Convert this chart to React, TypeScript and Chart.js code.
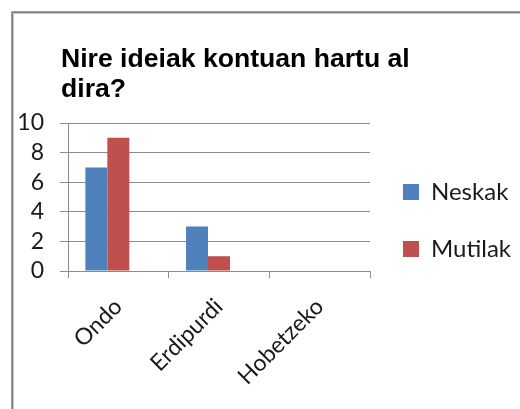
import React, { useEffect, useRef } from "react";
import { Chart, registerables } from "chart.js";

Chart.register(...registerables);

const TITLE_LINES = ["Nire ideiak kontuan hartu al", "dira?"];
const CATEGORIES = ["Ondo", "Erdipurdi", "Hobetzeko"];
const SERIES_NAMES = ["Neskak", "Mutilak"];
const NESKAK = [7, 3, 0];
const MUTILAK = [9, 1, 0];
const EMPTY_SERIES: (number | null)[] = [null, null, null];
const Y_MIN = 0;
const Y_MAX = 10;
const Y_STEP = 2;

const BLUE = "#4F81BD";
const RED = "#C0504D";
const GRID = "#8c8c8c";

const framePlugin = {
  id: "frameAndTitle",
  beforeDraw(chart: any) {
    const ctx = chart.ctx;
    const w = chart.width;
    const h = chart.height;
    ctx.save();
    ctx.fillStyle = "#ffffff";
    ctx.fillRect(0, 0, w, h);
    const shades = ["#9a9a9a", "#808080", "#c4c4c4"];
    shades.forEach((c, i) => {
      ctx.strokeStyle = c;
      ctx.lineWidth = 1;
      ctx.beginPath();
      ctx.moveTo(11.5 + i, h);
      ctx.lineTo(11.5 + i, 11.5 + i);
      ctx.lineTo(w, 11.5 + i);
      ctx.stroke();
    });
    ctx.restore();
  },
  afterDraw(chart: any) {
    const ctx = chart.ctx;
    ctx.save();
    ctx.fillStyle = "#000000";
    ctx.font = "bold 26.6px 'Liberation Sans', Arial, sans-serif";
    ctx.textAlign = "left";
    ctx.textBaseline = "alphabetic";
    TITLE_LINES.forEach((line, i) => {
      ctx.fillText(line, 61, 67 + i * 30);
    });
    ctx.restore();
  },
};

export default function App() {
  const ref = useRef<HTMLCanvasElement | null>(null);

  useEffect(() => {
    if (!ref.current) return;
    const chart = new Chart(ref.current, {
      type: "bar",
      data: {
        labels: CATEGORIES,
        datasets: [
          { label: SERIES_NAMES[0], data: NESKAK, backgroundColor: BLUE, borderWidth: 0 },
          { label: SERIES_NAMES[1], data: MUTILAK, backgroundColor: RED, borderWidth: 0 },
          { label: "", data: EMPTY_SERIES, backgroundColor: "rgba(0,0,0,0)", borderWidth: 0 },
        ],
      },
      options: {
        responsive: false,
        animation: false,
        layout: { padding: { top: 123, left: 0, right: 0, bottom: 0 } },
        datasets: {
          bar: { categoryPercentage: 0.655, barPercentage: 1 },
        },
        plugins: {
          title: { display: false },
          tooltip: { enabled: false },
          legend: {
            position: "right",
            align: "start",
            maxWidth: 150,
            title: { display: true, text: "", font: { size: 20 }, padding: 0 },
            labels: {
              filter: (item: any) => item.datasetIndex < 2,
              boxWidth: 16,
              boxHeight: 16,
              padding: 33,
              color: "#1a1a1a",
              font: { family: "Lato, 'Noto Sans', sans-serif", size: 24 },
            },
          },
        },
        scales: {
          x: {
            offset: true,
            afterFit: (s: any) => {
              s.height = 138;
            },
            grid: {
              display: true,
              drawOnChartArea: false,
              drawTicks: true,
              tickLength: 7,
              color: GRID,
              offset: true,
            },
            border: { display: true, color: GRID },
            ticks: {
              autoSkip: false,
              minRotation: 45,
              maxRotation: 45,
              padding: 15,
              color: "#1a1a1a",
              font: { family: "Lato, 'Noto Sans', sans-serif", size: 23 },
            },
          },
          y: {
            min: Y_MIN,
            max: Y_MAX,
            afterFit: (s: any) => {
              s.width = 68;
            },
            grid: { color: GRID, tickLength: 8, drawTicks: true },
            border: { display: true, color: GRID },
            ticks: {
              stepSize: Y_STEP,
              autoSkip: false,
              padding: 16,
              color: "#1a1a1a",
              font: { family: "Lato, 'Noto Sans', sans-serif", size: 23 },
            },
          },
        },
      },
      plugins: [framePlugin],
    });
    return () => chart.destroy();
  }, []);

  return (
    <div style={{ position: "fixed", left: 0, top: 0, width: 520, height: 409 }}>
      <canvas ref={ref} width={520} height={409} style={{ display: "block" }} />
    </div>
  );
}
